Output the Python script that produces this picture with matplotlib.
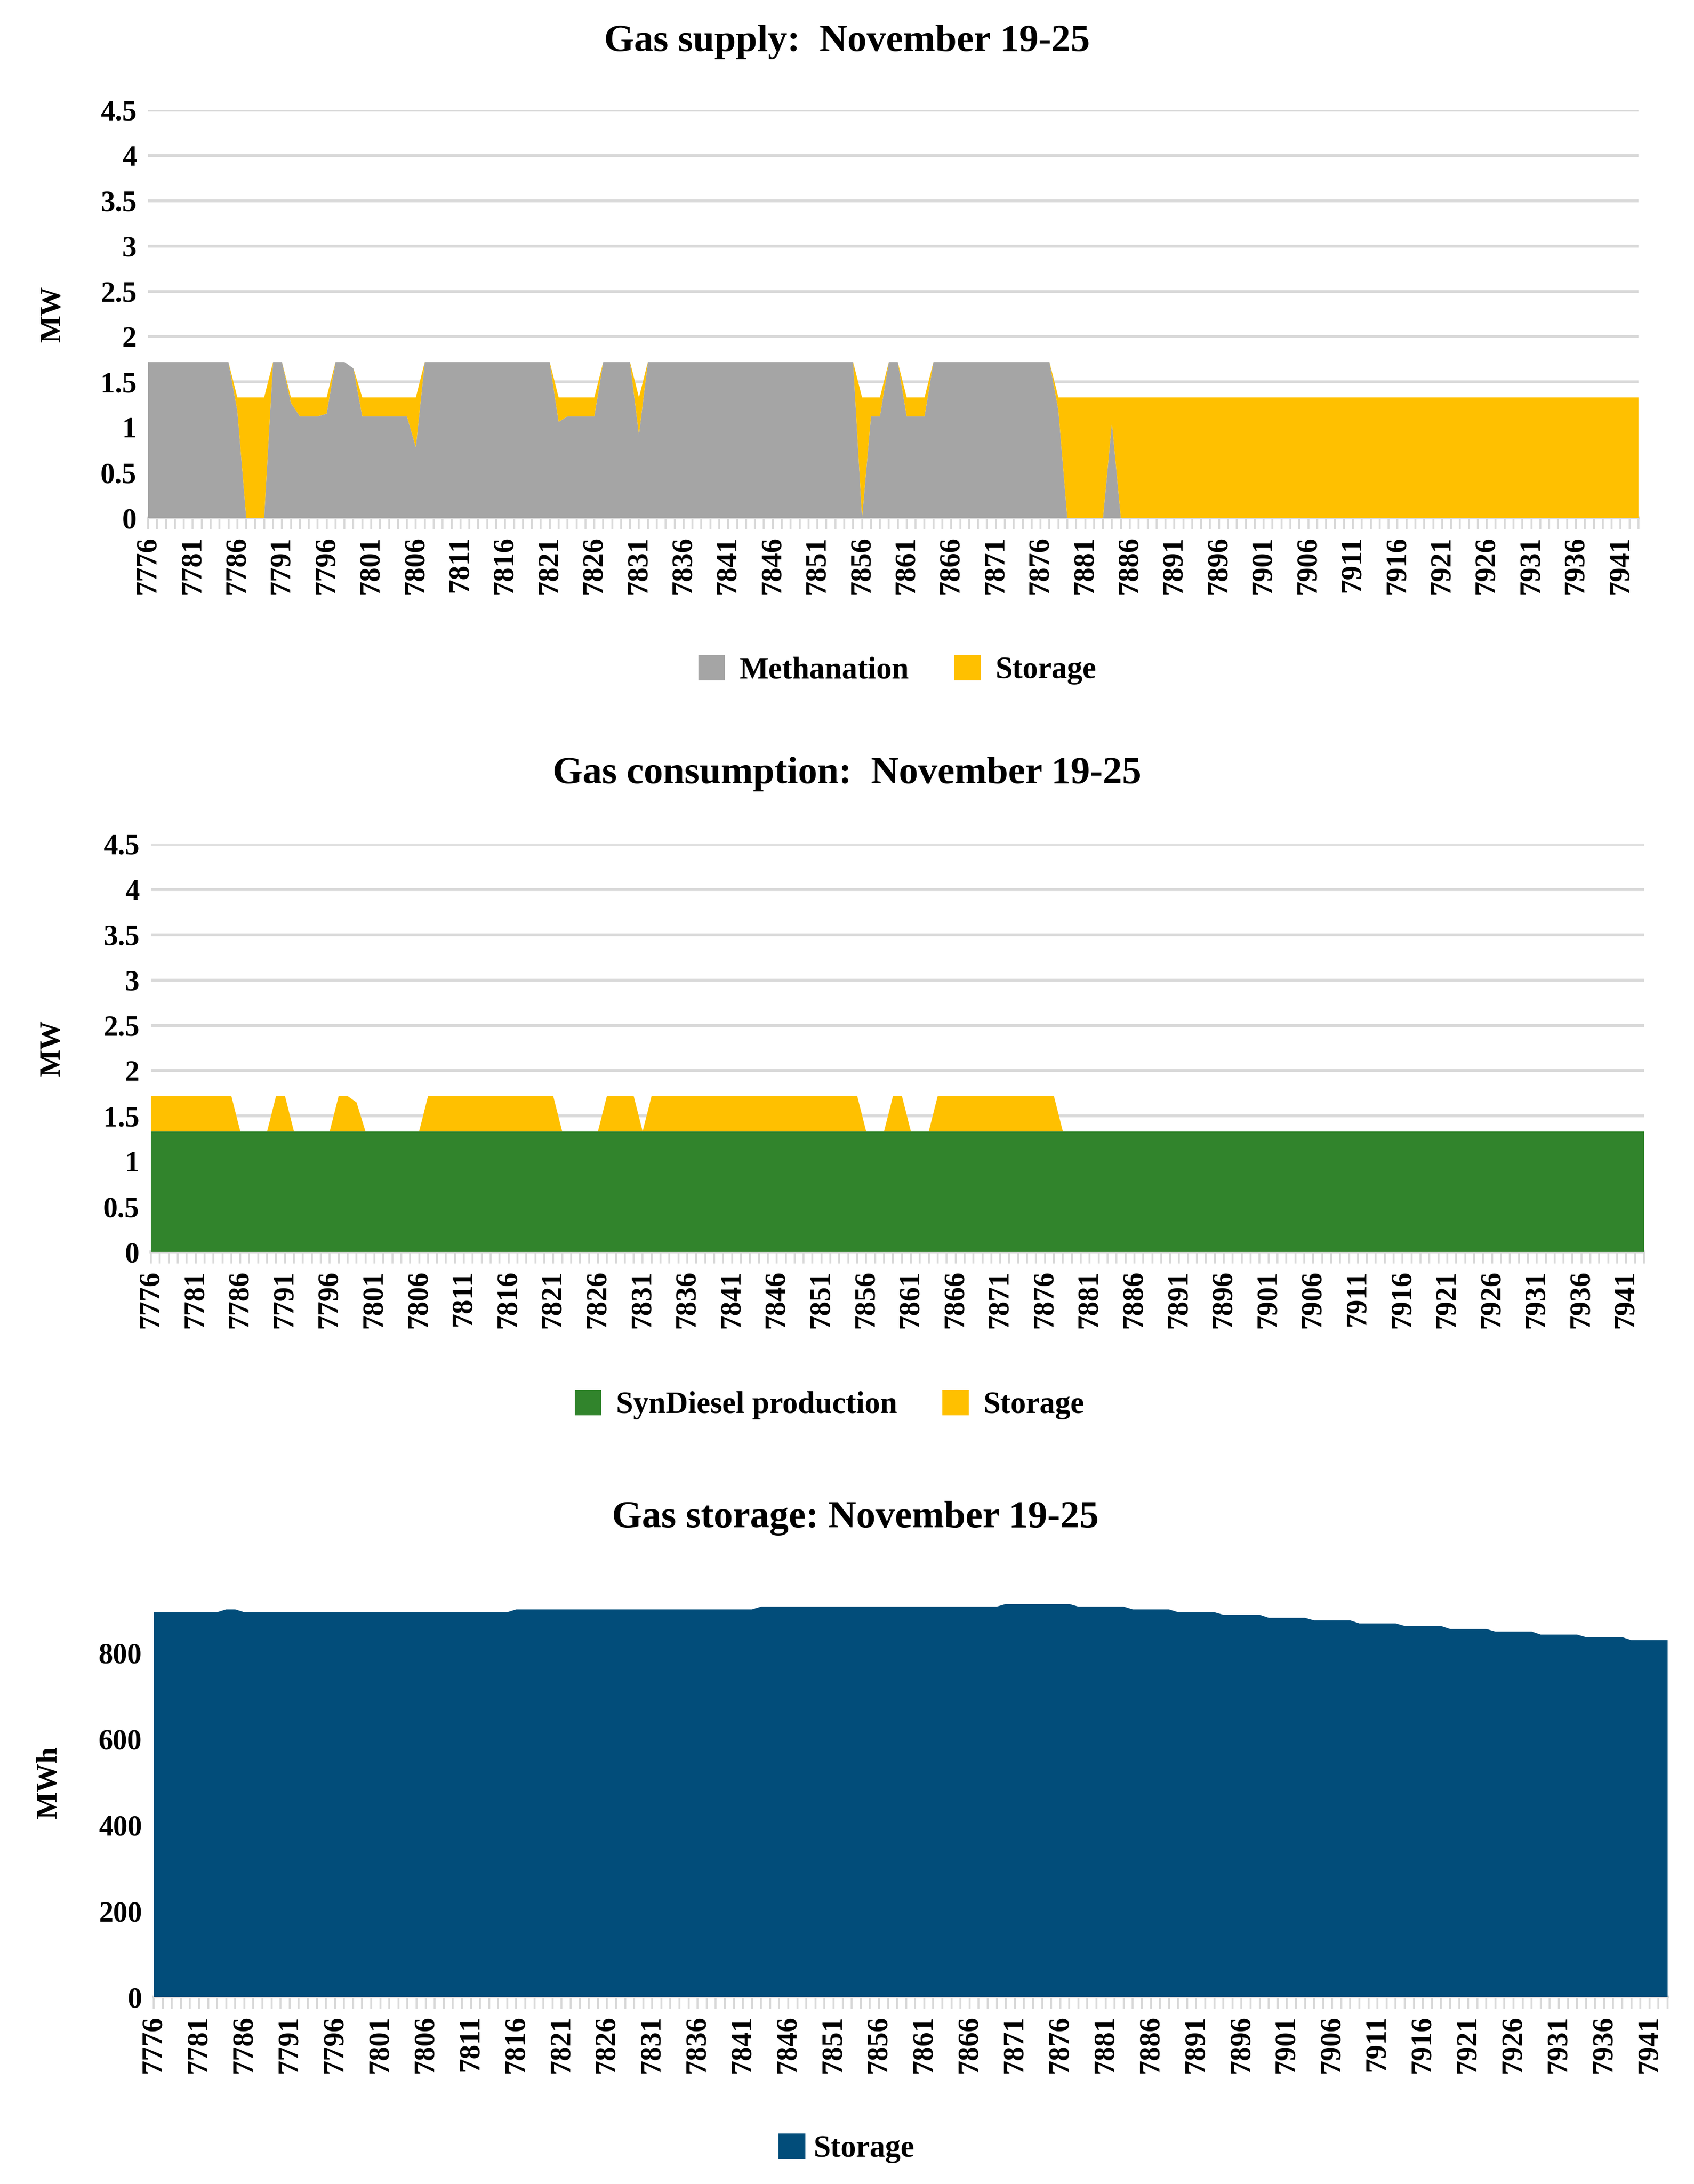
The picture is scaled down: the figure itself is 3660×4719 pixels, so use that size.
import matplotlib
matplotlib.use("Agg")
import matplotlib.pyplot as plt
from matplotlib.patches import Patch

hours = list(range(7776, 7944))

methanation = ([1.72]*10 + [1.18] + [0]*3 + [1.72]*2 + [1.27] + [1.12]*3 + [1.15] +
               [1.72]*2 + [1.65] + [1.12]*6 + [0.78] + [1.72]*15 + [1.06] + [1.12]*4 +
               [1.72]*4 + [0.92] + [1.72]*24 + [0] + [1.12]*2 + [1.72]*2 + [1.12]*3 +
               [1.72]*14 + [1.19] + [0]*5 + [1.05] + [0]*59)
storage_supply = ([0]*10 + [0.15] + [1.33]*3 + [0]*2 + [0.06] + [0.21]*3 + [0.18] +
                  [0]*2 + [0] + [0.21]*6 + [0.55] + [0]*15 + [0.27] + [0.21]*4 +
                  [0]*4 + [0.41] + [0]*24 + [1.33] + [0.21]*2 + [0]*2 + [0.21]*3 +
                  [0]*14 + [0.14] + [1.33]*5 + [0.28] + [1.33]*59)
syndiesel = [1.33]*168
storage_cons = ([0.39]*10 + [0] + [0]*3 + [0.39]*2 + [0] + [0]*3 + [0] +
                [0.39]*2 + [0.32] + [0]*6 + [0] + [0.39]*15 + [0] + [0]*4 +
                [0.39]*4 + [0] + [0.39]*24 + [0] + [0]*2 + [0.39]*2 + [0]*3 +
                [0.39]*14 + [0] + [0]*5 + [0] + [0]*59)
storage_level = ([895]*8 + [901.5]*2 + [895]*30 + [901.5]*27 + [908]*27 + [914]*8 +
                 [908]*6 + [901.5]*5 + [895]*5 + [889]*5 + [882]*5 + [876]*5 + [869]*5 +
                 [863]*5 + [856]*5 + [850]*5 + [843]*5 + [837]*5 + [830]*5)

GRAY, YEL, GRN, NAVY, GRID = "#A5A5A5", "#FFC000", "#31842C", "#024D7A", "#D9D9D9"
FONT = "Liberation Serif"
plt.rcParams["font.family"] = FONT
plt.rcParams["font.weight"] = "bold"

W, H = 3660, 4719
fig = plt.figure(figsize=(W/300, H/300), dpi=300)

def ax_at(l, r, t, b):
    return fig.add_axes([l/W, 1-b/H, (r-l)/W, (b-t)/H])

x = list(range(len(hours)))

def style(ax, ymax, yticks, ylabels, ylabel, grid=True):
    ax.set_xlim(0, len(hours)-1)
    ax.set_ylim(0, ymax)
    ax.set_yticks(yticks)
    ax.set_yticklabels(ylabels, fontsize=15, fontweight="bold")
    ax.set_xticks(x, minor=True)
    ax.set_xticks(x[::5])
    ax.set_xticklabels([str(h) for h in hours[::5]], rotation=90, fontsize=15, fontweight="bold")
    ax.tick_params(axis="y", length=0, pad=6)
    ax.tick_params(axis="x", which="both", length=6, color=GRID, width=1)
    for s in ["top", "right", "left"]:
        ax.spines[s].set_visible(False)
    ax.spines["bottom"].set_color(GRID)
    ax.spines["bottom"].set_linewidth(1.5)
    if grid:
        ax.grid(axis="y", color=GRID, linewidth=1.5)
        ax.set_axisbelow(True)
    ax.set_ylabel(ylabel, fontsize=15, fontweight="bold")

mw_ticks = [0, 0.5, 1, 1.5, 2, 2.5, 3, 3.5, 4, 4.5]
mw_labels = ["0", "0.5", "1", "1.5", "2", "2.5", "3", "3.5", "4", "4.5"]

# Panel 1
ax1 = ax_at(320, 3540, 238, 1119)
ax1.stackplot(x, methanation, storage_supply, colors=[GRAY, YEL], zorder=3)
style(ax1, 4.5, mw_ticks, mw_labels, "MW")
ax1.yaxis.set_label_coords(-0.055, 0.5)
fig.text(0.5, 1-90/H, "Gas supply:  November 19-25", ha="center", va="center", fontsize=20, fontweight="bold")
fig.legend(handles=[Patch(color=GRAY, label="Methanation"), Patch(color=YEL, label="Storage")],
           loc="center", bbox_to_anchor=(0.53, 1-1448/H), ncol=2, frameon=False, fontsize=16,
           handlelength=0.8, handleheight=0.8, columnspacing=1.5, handletextpad=0.5)

# Panel 2
ax2 = ax_at(326, 3552, 1824, 2705)
ax2.stackplot(x, syndiesel, storage_cons, colors=[GRN, YEL], zorder=3)
style(ax2, 4.5, mw_ticks, mw_labels, "MW")
ax2.yaxis.set_label_coords(-0.057, 0.5)
fig.text(0.5, 1-1673/H, "Gas consumption:  November 19-25", ha="center", va="center", fontsize=20, fontweight="bold")
fig.legend(handles=[Patch(color=GRN, label="SynDiesel production"), Patch(color=YEL, label="Storage")],
           loc="center", bbox_to_anchor=(0.49, 1-3036/H), ncol=2, frameon=False, fontsize=16,
           handlelength=0.8, handleheight=0.8, columnspacing=1.5, handletextpad=0.5)

# Panel 3
ax3 = ax_at(332, 3603, 3386, 4315)
ax3.stackplot(x, storage_level, colors=[NAVY], zorder=3)
style(ax3, 1000, [0, 200, 400, 600, 800], ["0", "200", "400", "600", "800"], "MWh", grid=False)
ax3.yaxis.set_label_coords(-0.06, 0.5)
fig.text(0.505, 1-3280/H, "Gas storage: November 19-25", ha="center", va="center", fontsize=20, fontweight="bold")
fig.legend(handles=[Patch(color=NAVY, label="Storage")],
           loc="center", bbox_to_anchor=(0.5, 1-4643/H), ncol=1, frameon=False, fontsize=16,
           handlelength=0.8, handleheight=0.8, handletextpad=0.3)

fig.savefig("out.png", dpi=300, facecolor="white")
